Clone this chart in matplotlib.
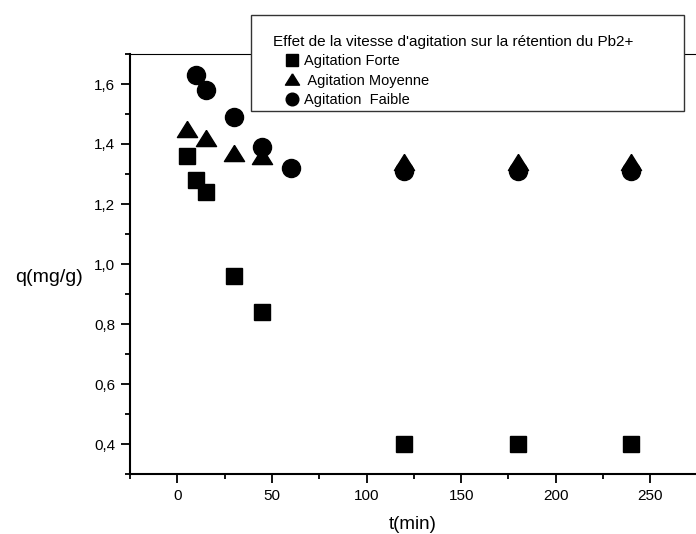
import numpy as np
import matplotlib
matplotlib.use("Agg")
import matplotlib.pyplot as plt
from matplotlib.ticker import MultipleLocator, FixedLocator, FuncFormatter
from matplotlib.patches import Rectangle

plt.rcParams['font.family'] = ['Liberation Sans', 'DejaVu Sans']

# temps de contact (min) et quantite retenue q (mg/g)
t_forte = [5, 10, 15, 30, 45, 120, 180, 240]
q_forte = [1.36, 1.28, 1.24, 0.96, 0.84, 0.40, 0.40, 0.40]

t_moyenne = [5, 15, 30, 45, 120, 180, 240]
q_moyenne = [1.45, 1.42, 1.37, 1.36, 1.34, 1.34, 1.34]

t_faible = [10, 15, 30, 45, 60, 120, 180, 240]
q_faible = [1.63, 1.58, 1.49, 1.39, 1.32, 1.31, 1.31, 1.31]

x_major = [0, 50, 100, 150, 200, 250]

# triangle un peu plus large que haut
tri = [(0, 0.8), (-1, -0.8), (1, -0.8), (0, 0.8)]

fig = plt.figure(figsize=(6.96, 5.34), dpi=100)
ax = fig.add_axes([130 / 696, 60 / 534, 615 / 696, 420 / 534])

ax.plot(t_forte, q_forte, 's', color='black', ms=11.5, label='Agitation Forte')
ax.plot(t_moyenne, q_moyenne, marker=tri, ls='none', color='black', ms=14.5,
        label=' Agitation Moyenne')
ax.plot(t_faible, q_faible, 'o', color='black', ms=13, label='Agitation  Faible')

ax.set_xlim(-25, 300)
ax.set_ylim(0.3, 1.7)

ax.xaxis.set_major_locator(FixedLocator(x_major))
ax.xaxis.set_minor_locator(MultipleLocator(25))
ax.yaxis.set_major_locator(MultipleLocator(0.2))
ax.yaxis.set_minor_locator(MultipleLocator(0.1))
ax.yaxis.set_major_formatter(FuncFormatter(lambda v, p: f"{v:.1f}".replace('.', ',')))

ax.tick_params(which='major', direction='out', length=6.5, width=1.3, labelsize=11, pad=4)
ax.tick_params(which='minor', direction='out', length=3.5, width=1.3)

ax.spines['left'].set_linewidth(1.5)
ax.spines['bottom'].set_linewidth(1.5)
ax.spines['top'].set_linewidth(0.8)
ax.spines['right'].set_linewidth(0.8)

ax.set_xlabel('t(min)', fontsize=13.5)
ax.xaxis.set_label_coords((413 - 130) / 615.0, -0.10)
ax.set_ylabel('q(mg/g)', fontsize=14, rotation=0, ha='right', va='center')
ax.yaxis.set_label_coords(-0.077, (474 - 277) / 420.0)

# cadre de la legende
fig.patches.append(Rectangle((251 / 696, 1 - 111 / 534), (684 - 251) / 696, 96 / 534,
                             transform=fig.transFigure, facecolor='white',
                             edgecolor='#333333', lw=1.0, zorder=3))
fig.text(273 / 696, 1 - 42 / 534, "Effet de la vitesse d'agitation sur la rétention du Pb2+",
         fontsize=11, ha='left', va='center', zorder=6)

handles, labels = ax.get_legend_handles_labels()
leg = fig.legend(handles, labels, loc='upper left',
                 bbox_to_anchor=(283 / 696, 1 - 54 / 534), bbox_transform=fig.transFigure,
                 fontsize=10.5, frameon=False, markerscale=0.7,
                 handlelength=1.25, handletextpad=0.2, labelspacing=0.38,
                 borderpad=0, borderaxespad=0)
leg.set_zorder(5)

fig.savefig('out.png', dpi=100)
